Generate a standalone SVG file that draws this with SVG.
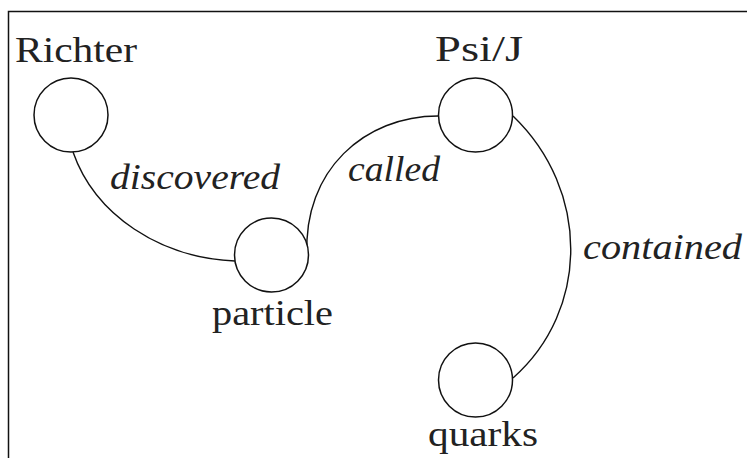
<svg xmlns="http://www.w3.org/2000/svg" width="747" height="458" viewBox="0 0 747 458">
<style>
.node{fill:#fff;stroke:#111;stroke-width:1.5}
.edge{fill:none;stroke:#111;stroke-width:1.4}
.lbl{font-family:'Liberation Serif','Times New Roman',Times,serif;font-size:36px;fill:#222}
.elbl{font-family:'Liberation Serif','Times New Roman',Times,serif;font-size:35px;font-style:italic;fill:#222}
.frame{stroke:#111;stroke-width:1.5;fill:none}
</style>
<rect width="747" height="458" fill="#fff"/>
<path class="frame" d="M8.5,458 V11.5 H747"/>
<g id="connectors">
<path class="edge" d="M73,152 C95,215 160,258 235,261"/>
<path class="edge" d="M307,255 C303,170 365,116 438,116"/>
<path class="edge" d="M513,116 C590,190 590,310 513,378"/>
<text class="elbl" x="110" y="189" textLength="170" lengthAdjust="spacingAndGlyphs">discovered</text>
<text class="elbl" x="348" y="181" textLength="92" lengthAdjust="spacingAndGlyphs">called</text>
<text class="elbl" x="583" y="259" textLength="159" lengthAdjust="spacingAndGlyphs">contained</text>
</g>
<g id="richter">
<circle class="node" cx="71" cy="115" r="37"/>
<text class="lbl" x="15" y="62" textLength="122" lengthAdjust="spacingAndGlyphs">Richter</text>
</g>
<g id="particle">
<circle class="node" cx="271.5" cy="255" r="37"/>
<text class="lbl" x="212" y="325" textLength="121" lengthAdjust="spacingAndGlyphs">particle</text>
</g>
<g id="psij">
<circle class="node" cx="475.5" cy="115" r="37"/>
<text class="lbl" x="435" y="61" textLength="88" lengthAdjust="spacingAndGlyphs">Psi/J</text>
</g>
<g id="quarks">
<circle class="node" cx="475.5" cy="380" r="37"/>
<text class="lbl" x="428" y="446" textLength="110" lengthAdjust="spacingAndGlyphs">quarks</text>
</g>
</svg>
